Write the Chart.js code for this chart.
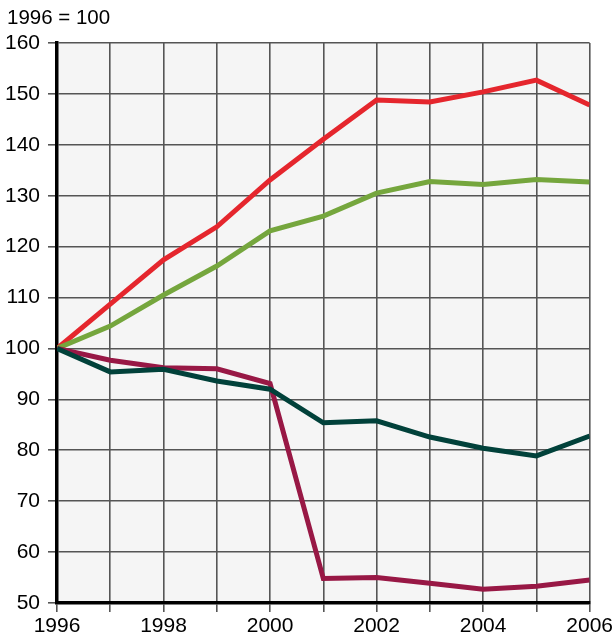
<!DOCTYPE html>
<html>
<head>
<meta charset="utf-8">
<script src="https://cdn.jsdelivr.net/npm/chart.js@4"></script>
<style>
  html, body { margin: 0; padding: 0; background: #fff; }
  #wrap { position: relative; width: 615px; height: 640px; }
  #unit { position: absolute; left: 7px; top: 5px; font: 20.5px "Liberation Sans", Arial, sans-serif; color: #000; }
  canvas { position: absolute; left: 0; top: 0; }
</style>
</head>
<body>
<div id="wrap">
  <canvas id="chart" width="615" height="640"></canvas>
  <div id="unit">1996 = 100</div>
</div>
<script>
// DATA
const years = [1996, 1997, 1998, 1999, 2000, 2001, 2002, 2003, 2004, 2005, 2006];
const redSeries = [100, 108.7, 117.4, 123.9, 133.1, 141.1, 148.8, 148.4, 150.4, 152.7, 147.8];
const greenSeries = [100, 104.4, 110.5, 116.2, 123.1, 126.0, 130.5, 132.8, 132.2, 133.2, 132.7];
const darkSeries = [100, 95.4, 95.9, 93.6, 92.0, 85.4, 85.8, 82.6, 80.4, 78.9, 82.8];
const crimsonSeries = [100, 97.7, 96.2, 96.0, 93.1, 54.8, 55.0, 53.9, 52.7, 53.3, 54.5];
const yTicks = [50, 60, 70, 80, 90, 100, 110, 120, 130, 140, 150, 160];

const font = { family: "'Liberation Sans', Arial, sans-serif", size: 21 };

function pts(arr) {
  return years.map((y, i) => ({ x: y, y: arr[i] }));
}

// plot background
const bgPlugin = {
  id: "bg",
  beforeDraw(chart) {
    const a = chart.chartArea, ctx = chart.ctx;
    ctx.save();
    ctx.fillStyle = "#f5f5f5";
    ctx.fillRect(a.left, a.top, a.right - a.left, a.bottom - a.top);
    ctx.restore();
  }
};

function line(data, color, order) {
  return {
    data: pts(data),
    borderColor: color,
    borderWidth: 5,
    pointRadius: 0,
    tension: 0,
    fill: false,
    order: order
  };
}

new Chart(document.getElementById("chart"), {
  type: "line",
  data: {
    datasets: [
      line(redSeries, "#e5262d", 3),
      line(greenSeries, "#75a63d", 2),
      line(crimsonSeries, "#981845", 1),
      line(darkSeries, "#01413a", 0)
    ]
  },
  options: {
    responsive: false,
    animation: false,
    layout: { padding: { top: 43, right: 25, left: 0, bottom: 0 } },
    plugins: { legend: { display: false }, tooltip: { enabled: false } },
    scales: {
      x: {
        type: "linear",
        min: 1996,
        max: 2006,
        afterBuildTicks: s => { s.ticks = years.map(v => ({ value: v })); },
        ticks: {
          autoSkip: false,
          maxRotation: 0,
          color: "#000",
          font: font,
          padding: 2,
          callback: v => (v % 2 === 0 ? String(v) : "")
        },
        grid: { color: "#555", lineWidth: 1.6, tickLength: 9 },
        border: { color: "#000", width: 3.5 },
        afterFit: s => { s.height = 37; }
      },
      y: {
        min: 50,
        max: 160,
        afterBuildTicks: s => { s.ticks = yTicks.map(v => ({ value: v })); },
        ticks: { color: "#000", font: font, padding: 8 },
        grid: { color: "#555", lineWidth: 1.6, tickLength: 9 },
        border: { color: "#000", width: 3.5 },
        afterFit: s => { s.width = 57; }
      }
    }
  },
  plugins: [bgPlugin]
});
</script>
</body>
</html>
